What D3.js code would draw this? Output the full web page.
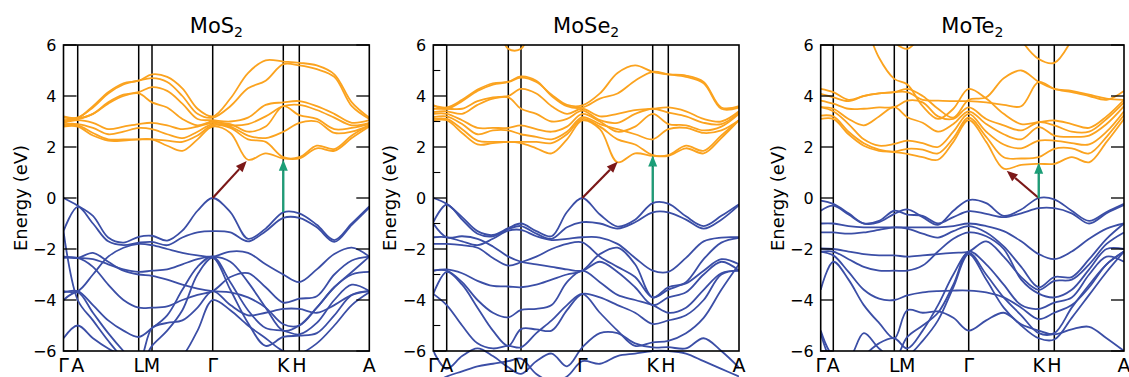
<!DOCTYPE html>
<html>
<head>
<meta charset="utf-8">
<script src="https://cdn.jsdelivr.net/npm/d3@7"></script>
<style>
  body { margin: 0; background: #fff; }
  svg { display: block; font-family: "DejaVu Sans", Verdana, sans-serif; }
</style>
</head>
<body>
<div id="chart"></div>
<script>
// high-symmetry path labels and segment sampling (interior fractions per segment)
const hsLabels = ['Γ', 'A', 'L', 'M', 'Γ', 'K', 'H', 'A'];
const segFracs = [[], [0.25, 0.5, 0.75], [], [0.25, 0.5, 0.75], [0.25, 0.5, 0.75], [], [0.25, 0.5, 0.75]];
const yTicks = [-6, -4, -2, 0, 2, 4, 6];
const yMinor = [-5, -3, -1, 1, 3, 5];

// k-path node positions (cumulative path length)
const mos2Nodes = [0, 14.2, 75.2, 88.5, 149.2, 219.8, 235.8, 305.8];
const mose2Nodes = [0, 13.4, 75, 87.7, 149, 219.4, 235, 305.7];
const mote2Nodes = [0, 12.6, 73.6, 86.6, 148, 218, 233.6, 303.3];

// bands: energies (eV) at the 20 path samples
// samples: Γ, A, AL x3, L, M, MΓ x3, Γ, ΓK x3, K, H, HA x3, A
const mos2Cond = [
  [2.8, 2.8, 2.45, 2.25, 2.25, 2.3, 2.3, 2.05, 1.85, 2.3, 2.8, 2.55, 1.5, 1.75, 1.55, 1.55, 1.95, 1.85, 2.35, 2.8],
  [2.85, 2.85, 2.55, 2.3, 2.3, 2.3, 2.3, 2.25, 2.2, 2.45, 2.85, 2.75, 2.3, 2.2, 1.6, 1.6, 2.05, 1.92, 2.45, 2.85],
  [2.9, 2.9, 2.75, 2.5, 2.6, 2.75, 2.7, 2.5, 2.35, 2.6, 2.9, 2.8, 2.45, 2.35, 2.6, 2.95, 3.0, 2.55, 2.6, 2.85],
  [2.95, 3.05, 2.95, 2.7, 2.8, 2.9, 2.95, 2.85, 2.7, 2.8, 2.95, 2.9, 2.6, 2.8, 3.6, 3.25, 3.1, 2.7, 2.75, 2.9],
  [3.0, 3.1, 3.3, 3.7, 4.0, 4.1, 3.75, 3.55, 3.1, 2.85, 3.0, 2.85, 2.9, 3.2, 3.6, 3.65, 3.45, 3.15, 2.85, 2.95],
  [3.05, 3.1, 3.3, 3.75, 4.05, 4.15, 4.35, 4.2, 3.7, 3.1, 3.05, 3.0, 3.15, 3.65, 3.75, 3.8, 3.6, 3.3, 2.95, 3.05],
  [3.15, 3.15, 3.55, 4.1, 4.45, 4.6, 4.7, 4.55, 4.0, 3.3, 3.15, 3.6, 4.3, 4.6, 5.25, 5.2, 5.05, 4.75, 3.6, 3.1],
  [3.2, 3.15, 3.6, 4.15, 4.5, 4.6, 4.85, 4.75, 4.3, 3.5, 3.2, 3.9, 4.9, 5.4, 5.35, 5.3, 5.2, 4.85, 3.75, 3.15]
];
const mos2Val = [
  [0, -0.3, -0.7, -1.55, -1.75, -1.52, -1.48, -1.67, -1.28, -0.5, 0, -0.55, -1.6, -1.2, -0.56, -0.6, -1.05, -1.65, -1.0, -0.33],
  [-1.3, -0.35, -1.0, -1.7, -1.85, -1.75, -1.72, -1.85, -1.55, -1.35, -1.3, -1.35, -1.7, -1.3, -0.78, -0.78, -1.15, -1.72, -1.05, -0.38],
  [-2.3, -2.35, -2.15, -2.5, -2.85, -3.0, -3.05, -3.2, -3.4, -3.55, -3.65, -3.7, -3.9, -4.3, -4.95, -5.0, -4.3, -3.5, -3.0, -2.9],
  [-2.35, -2.35, -2.7, -3.4, -4.0, -4.3, -4.3, -4.25, -4.0, -3.8, -3.65, -3.1, -2.95, -3.5, -4.1, -3.95, -3.85, -3.0, -2.45, -2.3],
  [-3.65, -3.65, -3.0, -2.3, -1.95, -1.8, -1.85, -2.0, -2.15, -2.25, -2.3, -2.1, -2.15, -2.6, -3.0, -3.3, -2.8, -2.2, -1.95, -2.3],
  [-3.7, -3.65, -4.2, -4.8, -5.2, -5.45, -5.1, -4.6, -3.6, -2.7, -2.3, -3.3, -4.4, -5.1, -5.2, -5.35, -4.9, -4.0, -3.4, -3.65],
  [-4.0, -3.7, -4.5, -5.3, -6.0, -6.6, -5.8, -5.2, -4.4, -3.0, -2.35, -3.6, -4.9, -5.8, -5.45, -5.4, -5.3, -4.6, -3.8, -3.65],
  [-1.3, -4.0, -4.8, -5.6, -6.3, -6.8, -6.9, -6.6, -6.2, -5.2, -4.0, -4.4, -5.0, -5.5, -6.0, -6.1, -5.7, -5.0, -4.2, -3.7],
  [-2.3, -2.35, -2.4, -2.6, -2.8, -2.9, -2.85, -2.8, -2.6, -2.4, -2.3, -2.5, -3.3, -4.3, -5.2, -5.0, -4.3, -3.5, -2.9, -2.3],
  [-5.5, -5.0, -5.5, -5.9, -6.2, -6.4, -5.1, -4.9, -4.8, -4.3, -3.65, -4.2, -4.6, -4.5, -4.35, -4.35, -4.5, -4.2, -3.8, -3.65]
];
const mose2Cond = [
  [3.04, 3.05, 2.55, 2.1, 2.15, 2.2, 2.15, 1.95, 1.75, 2.3, 3.04, 2.7, 1.4, 1.75, 1.65, 1.65, 1.95, 1.75, 2.35, 3.05],
  [3.1, 3.1, 2.7, 2.25, 2.2, 2.2, 2.2, 2.2, 2.15, 2.5, 3.1, 2.8, 2.3, 2.1, 1.68, 1.68, 2.05, 1.85, 2.45, 3.05],
  [3.17, 3.2, 2.9, 2.5, 2.65, 2.65, 2.5, 2.4, 2.3, 2.6, 3.17, 2.9, 2.7, 2.5, 2.3, 2.7, 2.75, 2.55, 2.65, 3.05],
  [3.3, 3.3, 3.05, 2.75, 2.75, 2.75, 2.85, 2.7, 2.6, 2.8, 3.3, 3.0, 2.6, 2.8, 3.3, 2.9, 2.85, 2.65, 2.8, 3.3],
  [3.37, 3.4, 3.3, 3.65, 3.9, 3.95, 3.5, 3.3, 3.0, 3.1, 3.43, 3.05, 2.95, 3.3, 3.5, 3.35, 3.2, 2.95, 2.9, 3.35],
  [3.5, 3.5, 3.5, 3.8, 3.95, 4.0, 4.28, 4.1, 3.6, 3.3, 3.5, 3.2, 3.3, 3.45, 3.5, 3.55, 3.4, 3.1, 3.0, 3.4],
  [3.63, 3.5, 3.8, 4.2, 4.45, 4.55, 4.77, 4.6, 4.0, 3.6, 3.55, 3.9, 4.1, 4.6, 4.95, 4.85, 4.75, 4.5, 3.5, 3.55],
  [3.63, 3.55, 3.85, 4.25, 4.5, 4.55, 4.72, 4.55, 4.05, 3.65, 3.63, 4.1, 4.9, 5.2, 4.95, 4.85, 4.8, 4.55, 3.55, 3.6],
  [9, 9, 9, 9, 7.5, 5.85, 5.85, 7.5, 9, 9, 9, 9, 9, 9, 9, 9, 9, 9, 9, 9]
];
const mose2Val = [
  [0, -0.23, -0.75, -1.3, -1.45, -1.18, -1.0, -1.3, -1.5, -0.55, 0, -0.65, -1.12, -0.85, -0.2, -0.22, -0.72, -1.1, -0.7, -0.24],
  [-0.95, -0.26, -0.85, -1.4, -1.5, -1.22, -1.1, -1.4, -1.6, -1.15, -0.95, -1.0, -1.2, -0.95, -0.56, -0.56, -0.85, -1.2, -0.85, -0.28],
  [-1.54, -1.54, -1.7, -1.85, -1.6, -1.28, -1.25, -1.5, -1.65, -1.6, -1.54, -1.55, -1.8, -2.35, -2.85, -2.9, -2.35, -1.7, -1.55, -1.54],
  [-1.8, -1.8, -1.85, -1.95, -2.35, -2.65, -2.52, -2.3, -2.0, -1.8, -1.74, -2.3, -2.7, -3.1, -3.9, -3.6, -3.3, -2.4, -1.75, -1.56],
  [-2.85, -2.8, -2.95, -3.25, -3.45, -3.47, -3.5, -3.4, -3.2, -3.0, -2.85, -2.2, -1.95, -2.6, -3.9, -3.5, -3.35, -2.85, -2.4, -2.6],
  [-2.85, -2.85, -3.3, -4.0, -4.5, -4.68, -4.39, -4.35, -4.2, -3.3, -2.85, -3.3, -3.8, -4.0, -4.2, -4.5, -4.3, -3.6, -2.95, -2.85],
  [-3.76, -2.9, -3.4, -4.3, -5.2, -5.8, -5.14, -5.15, -5.2, -4.4, -3.76, -3.9, -4.2, -4.5, -4.94, -4.8, -4.6, -4.0, -3.0, -2.85],
  [-3.76, -4.2, -5.0, -5.7, -5.9, -5.8, -5.86, -5.3, -4.8, -4.2, -3.76, -4.5, -5.2, -5.8, -5.66, -5.6, -5.3, -4.7, -3.6, -2.6],
  [-6.0, -6.7, -6.2, -5.9, -6.2, -6.64, -6.9, -6.4, -6.1, -6.6, -5.86, -5.3, -5.3, -5.7, -5.86, -5.85, -5.9, -5.5, -6.0, -6.65],
  [-7.3, -7.0, -6.8, -6.6, -6.5, -6.4, -6.3, -6.9, -7.2, -7.0, -6.4, -6.5, -6.2, -6.1, -6.0, -6.0, -6.1, -6.4, -6.7, -7.0],
  [-1.0, -1.54, -1.5, -1.6, -1.9, -2.3, -2.5, -2.6, -2.7, -2.8, -2.85, -2.5, -2.9, -3.5, -4.2, -3.9, -3.7, -3.0, -2.5, -2.85]
];
const mote2Cond = [
  [3.1, 3.1, 2.5, 2.05, 1.85, 1.8, 1.73, 1.6, 1.5, 2.2, 3.05, 2.2, 1.15, 1.3, 1.34, 1.34, 1.6, 1.4, 2.2, 3.1],
  [3.23, 3.2, 2.6, 2.15, 1.9, 1.82, 1.93, 1.9, 1.75, 2.35, 3.15, 2.4, 1.6, 1.55, 1.6, 1.93, 1.95, 1.75, 2.4, 3.25],
  [3.56, 3.4, 2.9, 2.3, 2.05, 2.12, 2.25, 2.15, 2.0, 2.6, 3.3, 2.6, 2.1, 1.95, 2.25, 2.25, 2.15, 2.1, 2.6, 3.4],
  [3.56, 3.5, 3.1, 2.85, 3.2, 3.56, 3.17, 2.95, 2.6, 2.9, 3.4, 2.9, 2.5, 2.3, 2.78, 2.45, 2.4, 2.45, 2.9, 3.6],
  [3.82, 3.7, 3.5, 3.5, 3.55, 3.56, 3.82, 3.75, 3.2, 3.1, 3.55, 3.1, 2.85, 2.65, 2.97, 2.85, 2.6, 2.6, 3.1, 3.75],
  [4.08, 3.95, 3.8, 4.0, 4.1, 4.15, 4.15, 3.85, 3.82, 3.8, 3.8, 3.75, 3.65, 3.6, 4.55, 4.28, 4.2, 4.05, 3.9, 3.85],
  [4.28, 4.15, 3.85, 4.0, 4.1, 4.15, 4.28, 4.0, 3.5, 3.15, 3.85, 3.95, 4.7, 5.0, 4.55, 4.28, 4.15, 4.0, 3.85, 4.2],
  [9, 9, 8.5, 7.0, 5.5, 4.67, 4.45, 3.6, 3.1, 3.5, 4.28, 3.9, 3.3, 2.9, 2.97, 3.04, 2.9, 2.75, 3.2, 3.85],
  [9, 9, 9, 9, 9, 9, 9, 9, 9, 9, 9, 9, 7.5, 6.2, 5.45, 5.3, 6.2, 7.5, 9, 9],
  [9, 9, 9, 8, 6.8, 6.1, 5.85, 6.5, 8, 9, 9, 9, 9, 9, 9, 9, 9, 9, 9, 9]
];
const mote2Val = [
  [-0.1, -0.23, -0.6, -1.0, -0.95, -0.62, -0.45, -0.75, -1.05, -0.5, -0.08, -0.2, -0.7, -0.45, 0, -0.05, -0.5, -0.9, -0.55, -0.23],
  [-0.5, -0.3, -0.65, -1.0, -0.9, -0.5, -0.65, -0.7, -1.0, -0.75, -0.52, -0.62, -0.75, -0.6, -0.4, -0.4, -0.6, -1.0, -0.6, -0.28],
  [-1.0, -1.0, -1.1, -1.15, -1.15, -1.15, -1.15, -1.15, -1.15, -1.1, -1.0, -1.1, -1.3, -1.7, -2.2, -2.4, -2.1, -1.6, -1.2, -1.0],
  [-1.35, -1.35, -1.4, -1.35, -1.25, -1.15, -1.2, -1.4, -1.55, -1.3, -1.1, -1.35, -1.9, -2.7, -3.5, -3.1, -3.1, -2.4, -1.6, -1.0],
  [-1.98, -2.0, -2.1, -2.2, -2.25, -2.25, -2.3, -2.25, -2.2, -2.15, -2.1, -1.7, -2.3, -3.1, -3.6, -3.25, -3.2, -2.6, -1.8, -1.35],
  [-2.1, -2.1, -2.4, -2.7, -2.85, -2.85, -2.85, -2.65, -2.1, -1.6, -1.35, -1.5, -2.0, -3.2, -3.75, -3.9, -3.6, -2.8, -2.0, -2.0],
  [-2.1, -2.25, -2.9, -3.6, -3.95, -4.0, -3.82, -3.7, -3.65, -3.63, -3.63, -3.7, -3.9, -4.3, -4.75, -4.5, -4.2, -3.5, -2.6, -2.1],
  [-3.6, -2.5, -3.2, -4.2, -4.9, -5.5, -4.4, -4.5, -4.45, -4.7, -5.2, -4.8, -4.5, -4.95, -5.2, -5.35, -5.15, -5.05, -5.5, -6.0],
  [-5.2, -6.2, -6.3, -5.3, -5.9, -6.3, -5.45, -5.0, -4.5, -3.4, -2.1, -2.6, -3.4, -4.2, -4.35, -4.1, -3.9, -3.0, -2.3, -2.5],
  [-5.3, -6.5, -6.8, -6.2, -5.7, -5.5, -5.9, -5.2, -4.2, -3.0, -2.15, -3.0, -3.9, -4.6, -5.3, -5.3, -4.3, -3.4, -2.6, -2.1],
  [-6.5, -6.5, -6.6, -6.5, -6.4, -6.3, -6.2, -5.6, -4.8, -3.5, -2.2, -3.2, -4.3, -5.0, -5.5, -5.55, -4.7, -3.8, -2.9, -2.1]
];

// arrows: [k0, E0, k1, E1]
const mos2Arrows = [[149.2, 0, 183.2, 1.45], [219.8, -0.55, 219.8, 1.5]];
const mose2Arrows = [[149, 0, 184.4, 1.42], [219.4, -0.15, 219.4, 1.67]];
const mote2Arrows = [[218, 0, 186, 1.07], [218, 0, 218, 1.38]];

const colors = { cond: '#fba31f', val: '#3b4ea6', red: '#7b1818', green: '#1b9e77', frame: '#000' };

const panels = [
  { title: 'MoS', left: 63.5, right: 369.3, nodes: mos2Nodes, cond: mos2Cond, val: mos2Val, arrows: mos2Arrows, minor: false, rightTicks: true, clipBottom: true, ylabelX: 20 },
  { title: 'MoSe', left: 433.3, right: 739, nodes: mose2Nodes, cond: mose2Cond, val: mose2Val, arrows: mose2Arrows, minor: true, rightTicks: false, clipBottom: false, ylabelX: 389 },
  { title: 'MoTe', left: 820.7, right: 1124, nodes: mote2Nodes, cond: mote2Cond, val: mote2Val, arrows: mote2Arrows, minor: false, rightTicks: true, clipBottom: true, ylabelX: 777 }
];

const width = 1129, height = 377;
const yTop = 45, yBot = 351;

const svg = d3.select('#chart').append('svg')
  .attr('width', width)
  .attr('height', height);

function kSamples(nodes) {
  const out = [nodes[0]];
  for (let s = 0; s < nodes.length - 1; s++) {
    segFracs[s].forEach(f => out.push(nodes[s] + f * (nodes[s + 1] - nodes[s])));
    out.push(nodes[s + 1]);
  }
  return out;
}

const y = d3.scaleLinear().domain([-6, 6]).range([yBot, yTop]);

panels.forEach((p, pi) => {
  const x = d3.scaleLinear().domain([0, p.nodes[p.nodes.length - 1]]).range([p.left, p.right]);
  const ks = kSamples(p.nodes);
  const g = svg.append('g');

  const clipId = 'clip' + pi;
  svg.append('clipPath').attr('id', clipId).append('rect')
    .attr('x', p.left).attr('y', yTop)
    .attr('width', p.right - p.left)
    .attr('height', (p.clipBottom ? yBot : height) - yTop);

  // high-symmetry vertical lines
  g.selectAll('.vline').data(p.nodes.slice(1, -1)).enter().append('line')
    .attr('x1', d => x(d)).attr('x2', d => x(d))
    .attr('y1', yTop).attr('y2', yBot)
    .attr('stroke', colors.frame).attr('stroke-width', 1.5);

  const line = d3.line()
    .x((d, i) => x(ks[i]))
    .y(d => y(d))
    .curve(d3.curveCatmullRom.alpha(0.5));

  const bands = g.append('g').attr('clip-path', `url(#${clipId})`);
  bands.selectAll('.vb').data(p.val).enter().append('path')
    .attr('d', line).attr('fill', 'none')
    .attr('stroke', colors.val).attr('stroke-width', 1.8);
  bands.selectAll('.cb').data(p.cond).enter().append('path')
    .attr('d', line).attr('fill', 'none')
    .attr('stroke', colors.cond).attr('stroke-width', 1.8);

  // frame
  g.append('rect')
    .attr('x', p.left).attr('y', yTop)
    .attr('width', p.right - p.left).attr('height', yBot - yTop)
    .attr('fill', 'none').attr('stroke', colors.frame).attr('stroke-width', 1.6);

  // y ticks
  g.selectAll('.tl').data(yTicks).enter().append('line')
    .attr('x1', p.left).attr('x2', p.left + 13)
    .attr('y1', d => y(d)).attr('y2', d => y(d))
    .attr('stroke', colors.frame).attr('stroke-width', 1.3);
  if (p.rightTicks) {
    g.selectAll('.tr').data(yTicks).enter().append('line')
      .attr('x1', p.right - 13).attr('x2', p.right)
      .attr('y1', d => y(d)).attr('y2', d => y(d))
      .attr('stroke', colors.frame).attr('stroke-width', 1.3);
  }
  if (p.minor) {
    g.selectAll('.tm').data(yMinor).enter().append('line')
      .attr('x1', p.left).attr('x2', p.left + 7)
      .attr('y1', d => y(d)).attr('y2', d => y(d))
      .attr('stroke', colors.frame).attr('stroke-width', 1.1);
  }
  g.selectAll('.ylab').data(yTicks).enter().append('text')
    .attr('x', p.left - 7).attr('y', d => y(d) + 5.8)
    .attr('text-anchor', 'end').attr('font-size', 16)
    .text(d => d < 0 ? '\u2212' + Math.abs(d) : d);

  // x labels
  g.selectAll('.xlab').data(p.nodes).enter().append('text')
    .attr('x', d => x(d)).attr('y', 372)
    .attr('text-anchor', 'middle').attr('font-size', 19)
    .text((d, i) => hsLabels[i]);

  // y axis title
  g.append('text')
    .attr('transform', `translate(${p.ylabelX},${(yTop + yBot) / 2}) rotate(-90)`)
    .attr('text-anchor', 'middle').attr('dominant-baseline', 'central')
    .attr('font-size', 18)
    .text('Energy (eV)');

  // title
  const t = g.append('text')
    .attr('x', (p.left + p.right) / 2).attr('y', 33)
    .attr('text-anchor', 'middle').attr('font-size', 21)
    .text(p.title);
  t.append('tspan').attr('font-size', 14).attr('dy', 4).text('2');

  // arrows
  p.arrows.forEach((a, ai) => {
    const col = ai === 0 ? colors.red : colors.green;
    const x0 = x(a[0]), y0 = y(a[1]), x1 = x(a[2]), y1 = y(a[3]);
    const ang = Math.atan2(y1 - y0, x1 - x0);
    const hl = 11, hw = 4.5;
    const bx = x1 - hl * Math.cos(ang), by = y1 - hl * Math.sin(ang);
    g.append('line')
      .attr('x1', x0).attr('y1', y0).attr('x2', bx).attr('y2', by)
      .attr('stroke', col).attr('stroke-width', 2.2);
    const px = -Math.sin(ang) * hw, py = Math.cos(ang) * hw;
    g.append('path')
      .attr('d', `M${x1},${y1}L${bx + px},${by + py}L${bx - px},${by - py}Z`)
      .attr('fill', col);
  });
});
</script>
</body>
</html>
